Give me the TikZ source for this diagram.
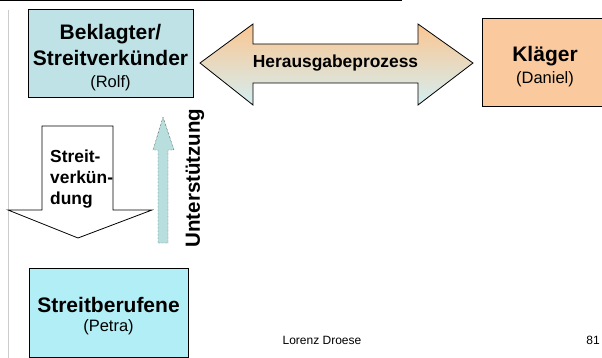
\documentclass[tikz,border=0pt]{standalone}
\usepackage{fontspec}
\setmainfont{Liberation Sans}
\definecolor{rolfblue}{RGB}{190,226,230}
\definecolor{danielpeach}{RGB}{250,202,158}
\definecolor{petracyan}{RGB}{178,238,245}
\definecolor{arrowblue}{RGB}{184,222,222}
\definecolor{gradtop}{RGB}{250,198,146}
\definecolor{gradbot}{RGB}{212,238,242}
\usetikzlibrary{positioning}

\begin{document}
\begin{tikzpicture}[x=1pt, y=-1pt,
  party/.style={draw=black, line width=1pt, inner sep=0pt},
  partyname/.style={anchor=base, inner sep=0pt, font=\fontsize{21}{25}\selectfont\bfseries},
  partysub/.style={anchor=base, inner sep=0pt, font=\fontsize{16.5}{20}\selectfont}]
  \useasboundingbox (0,0) rectangle (602,358);
  %% 1. Frame lines
  \draw[line width=1pt] (0,1) -- (402,1);
  \draw[gray!40, line width=0.8pt] (8,10) -- (8,358);
  %% 2. Parties
  \node[party, fill=rolfblue, minimum width=165pt, minimum height=88pt] (rolf) at (110.5,54) {};
  \node[partyname] (rolfa) at (110.5,40) {Beklagter/};
  \node[partyname] (rolfb) at (110.5,66) {Streitverkünder};
  \node[partysub] (rolfc) at (110.5,88) {(Rolf)};
  \node[party, fill=danielpeach, minimum width=120pt, minimum height=88pt] (daniel) at (542,63) {};
  \node[partyname] (daniela) at (545,62) {Kläger};
  \node[partysub] (danielb) at (545,83.5) {(Daniel)};
  \node[party, fill=petracyan, minimum width=159pt, minimum height=89pt] (petra) at (108.5,312.5) {};
  \node[partyname] (petraa) at (108.5,312) {Streitberufene};
  \node[partysub] (petrab) at (108.5,331) {(Petra)};
  %% 3. Herausgabeprozess (double arrow)
  \shade[top color=gradtop, bottom color=gradbot]
    (200,63) -- (253,24) -- (253,44) -- (418,44) -- (418,24) -- (473,63)
    -- (418,105) -- (418,83) -- (253,83) -- (253,105) -- cycle;
  \draw[line width=0.8pt]
    (200,63) -- (253,24) -- (253,44) -- (418,44) -- (418,24) -- (473,63)
    -- (418,105) -- (418,83) -- (253,83) -- (253,105) -- cycle;
  \node[font=\fontsize{17.4}{20}\selectfont\bfseries] (prozess) at (335.5,63) {Herausgabeprozess};
  %% 4. Streitverkuendung (down arrow)
  \draw[line width=0.8pt, fill=white]
    (42,126) -- (113,126) -- (113,210) -- (152,210) -- (78,238)
    -- (8,210) -- (42,210) -- cycle;
  \node[font=\fontsize{17.4}{21}\selectfont\bfseries, align=left, anchor=north west,
    inner sep=0pt] (verk) at (50,150)
    {Streit-\\verkün-\\dung};
  %% 5. Unterstuetzung (up arrow)
  \draw[densely dotted, fill=arrowblue]
    (158,243) -- (158,150) -- (153,150) -- (163,117) -- (174,150)
    -- (168,150) -- (168,243) -- cycle;
  \node[font=\fontsize{20.5}{24}\selectfont\bfseries, rotate=90] (stuetz) at (195,178) {Unterstützung};
  %% 6. Footer
  \node[font=\fontsize{12}{14}\selectfont] (autor) at (322,340) {Lorenz Droese};
  \node[font=\fontsize{12}{14}\selectfont] (seite) at (593,340) {81};
\end{tikzpicture}
\end{document}
